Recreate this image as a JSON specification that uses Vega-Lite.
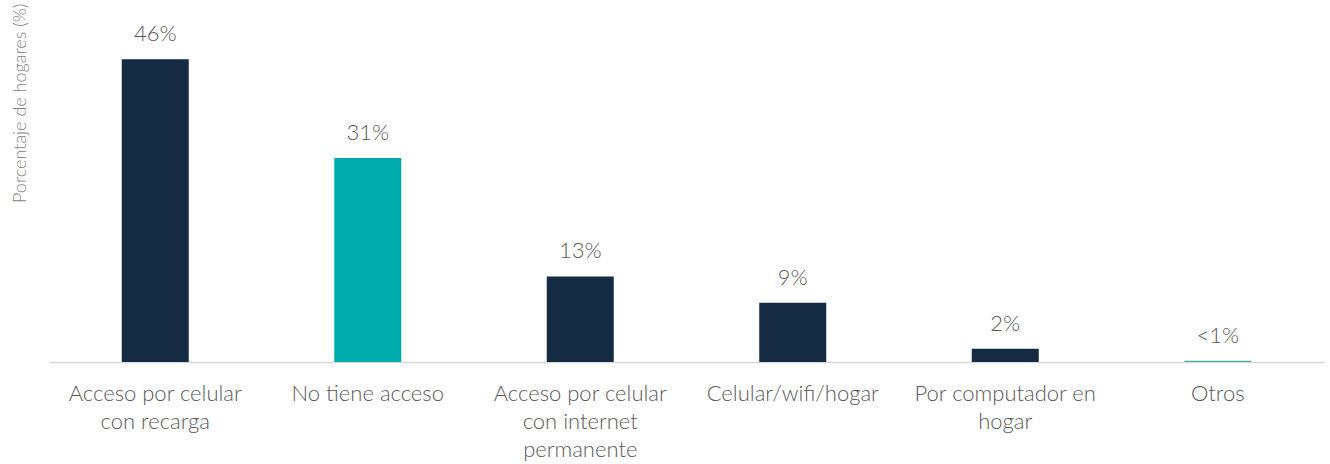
{
  "$schema": "https://vega.github.io/schema/vega-lite/v6.json",
  "autosize": "none",
  "padding": {"left": 49, "top": 0, "right": 6, "bottom": 102},
  "width": 1275,
  "height": 362,
  "background": "white",
  "config": {"view": {"stroke": null}, "font": "Lato"},
  "data": {
    "values": [
      {"categoria": "Acceso por celular con recarga", "porcentaje": 46, "etiqueta": "46%"},
      {"categoria": "No tiene acceso", "porcentaje": 31, "etiqueta": "31%"},
      {"categoria": "Acceso por celular con internet permanente", "porcentaje": 13, "etiqueta": "13%"},
      {"categoria": "Celular/wifi/hogar", "porcentaje": 9, "etiqueta": "9%"},
      {"categoria": "Por computador en hogar", "porcentaje": 2, "etiqueta": "2%"},
      {"categoria": "Otros", "porcentaje": 0.2, "etiqueta": "<1%"}
    ]
  },
  "encoding": {
    "x": {
      "field": "categoria",
      "type": "nominal",
      "sort": null,
      "scale": {"paddingInner": 0, "paddingOuter": 0},
      "axis": {
        "title": null,
        "ticks": false,
        "domainColor": "#d9d9d9",
        "domainWidth": 1.5,
        "labelAngle": 0,
        "labelFont": "Lato",
        "labelFontSize": 22,
        "labelFontWeight": 300,
        "labelColor": "#595959",
        "labelPadding": 21,
        "labelLineHeight": 28,
        "labelLimit": 300,
        "labelExpr": "datum.value == 'Acceso por celular con recarga' ? ['Acceso por celular', 'con recarga'] : datum.value == 'Acceso por celular con internet permanente' ? ['Acceso por celular', 'con internet', 'permanente'] : datum.value == 'Por computador en hogar' ? ['Por computador en', 'hogar'] : datum.value"
      }
    },
    "y": {
      "field": "porcentaje",
      "type": "quantitative",
      "scale": {"domain": [0, 55], "nice": false},
      "axis": {
        "title": "Porcentaje de hogares (%)",
        "domain": false,
        "ticks": false,
        "labels": false,
        "grid": false,
        "titleFont": "Lato",
        "titleFontSize": 18,
        "titleFontWeight": 300,
        "titleColor": "#7f7f7f",
        "titleAngle": -90,
        "titleX": -29,
        "titleY": 3,
        "titleAlign": "right",
        "titleBaseline": "middle"
      }
    }
  },
  "layer": [
    {
      "mark": {"type": "bar", "width": 67},
      "encoding": {
        "color": {
          "field": "categoria",
          "type": "nominal",
          "legend": null,
          "scale": {
            "domain": ["Acceso por celular con recarga", "No tiene acceso", "Acceso por celular con internet permanente", "Celular/wifi/hogar", "Por computador en hogar", "Otros"],
            "range": ["#152a43", "#00abad", "#152a43", "#152a43", "#152a43", "#4aaca5"]
          }
        }
      }
    },
    {
      "mark": {"type": "text", "baseline": "alphabetic", "dy": -18, "fontSize": 22, "fontWeight": 300, "font": "Lato", "color": "#595959"},
      "encoding": {"text": {"field": "etiqueta"}}
    }
  ]
}
